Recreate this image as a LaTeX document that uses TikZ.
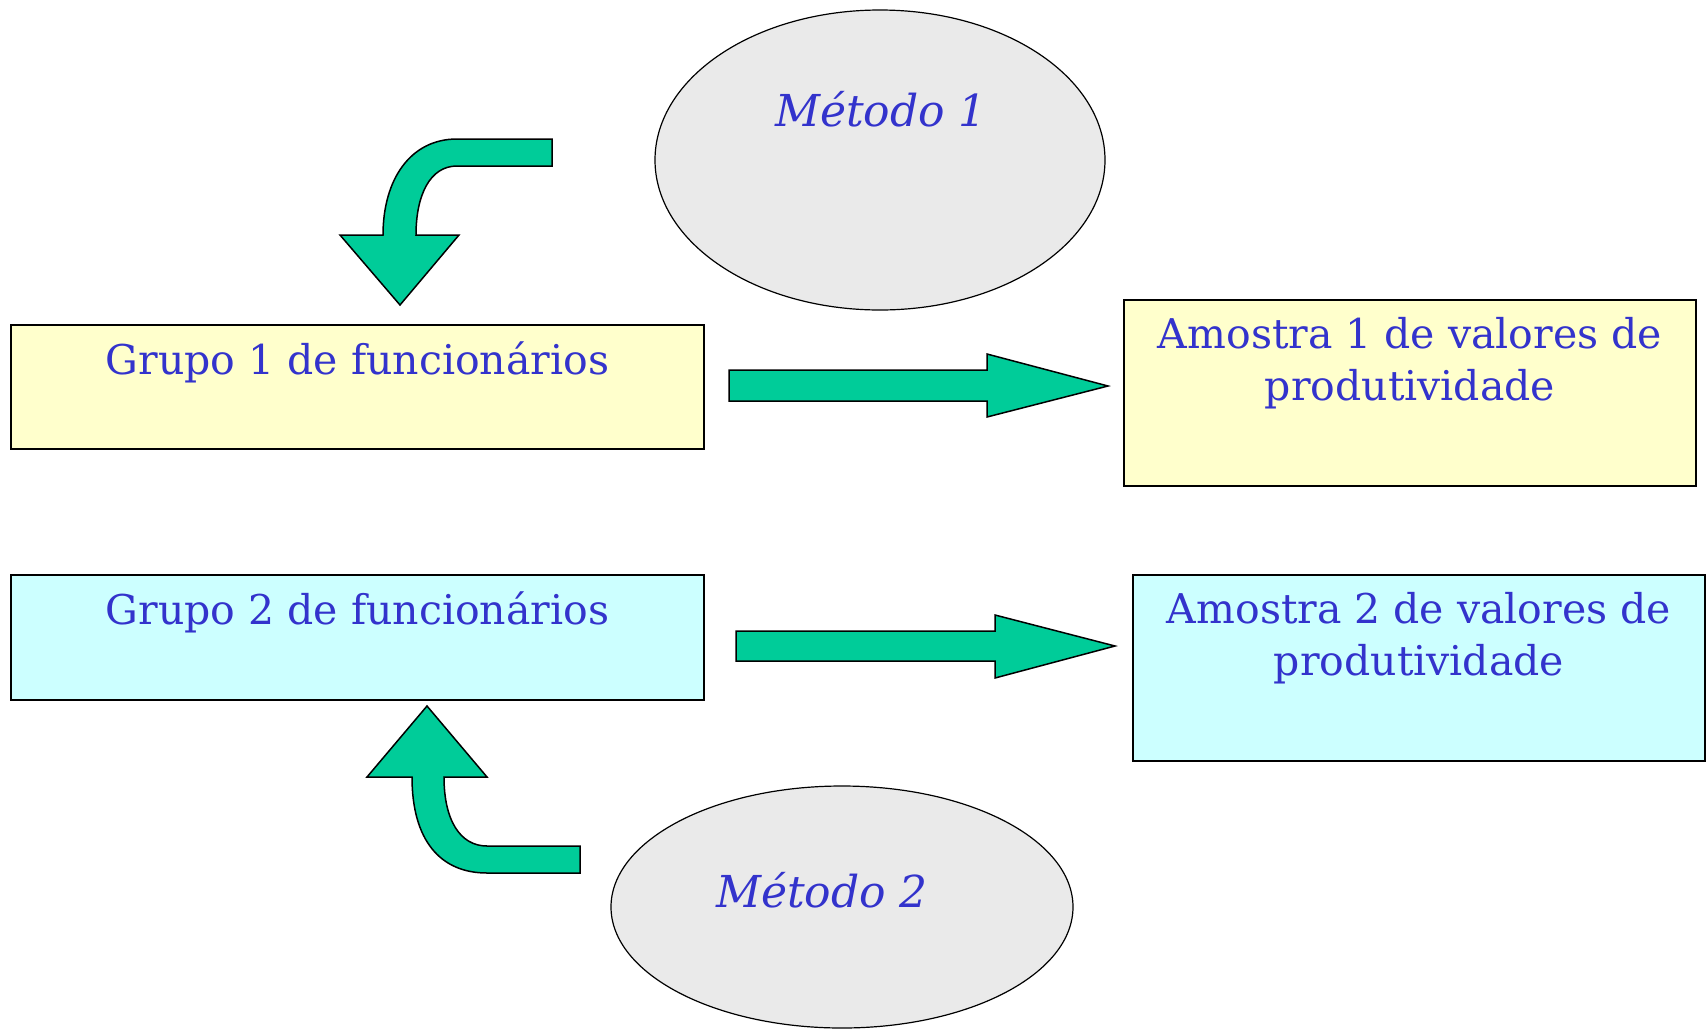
\documentclass[tikz,border=0pt]{standalone}
\usepackage{fontspec}
\setmainfont{DejaVu Serif}
\usepackage{tikz}
\usetikzlibrary{shapes.geometric}
\definecolor{boxyellow}{HTML}{FFFFCC}
\definecolor{boxcyan}{HTML}{CCFFFF}
\definecolor{arrowgreen}{HTML}{00CC99}
\definecolor{ovalgray}{HTML}{EAEAEA}
\definecolor{txtblue}{HTML}{3333CC}
\tikzset{sample box/.style={draw=black,line width=0.75pt,rectangle,inner sep=0},
  box text/.style={text=txtblue,font=\fontsize{20.5}{26}\selectfont,align=center,anchor=north,inner sep=0},
  method oval/.style={draw=black,line width=0.6pt,ellipse,fill=ovalgray,inner sep=0},
  method text/.style={text=txtblue,font=\fontsize{22}{26}\selectfont\itshape,inner sep=0},
  block arrow/.style={fill=arrowgreen,draw=black,line width=0.75pt,line join=miter}}
\def\ds{\displaystyle}

\begin{document}
\begin{tikzpicture}[x=0.5pt,y=-0.5pt]
          \useasboundingbox (0,0) rectangle (1708,1029);

          %Método 1
          \node[method oval, minimum width=225pt, minimum height=150pt] (M1) at (880,160) {};
          \node[method text] (m1) at (881,109) {Método 1};

          %Método 2
          \node[method oval, minimum width=231pt, minimum height=121pt] (M2) at (842,907) {};
          \node[method text] (m2) at (822,890) {Método 2};

          %grupos
          \node[sample box, fill=boxyellow, minimum width=346.5pt, minimum height=62pt] (G1) at (357.5,387) {};
          \node[box text] (g1) at ([yshift=-8.5pt]G1.north) {Grupo 1 de funcionários};
          \node[sample box, fill=boxcyan, minimum width=346.5pt, minimum height=62.5pt] (G2) at (357.5,637.5) {};
          \node[box text] (g2) at ([yshift=-8.5pt]G2.north) {Grupo 2 de funcionários};

          %amostras
          \node[sample box, fill=boxyellow, minimum width=286pt, minimum height=93pt] (A1) at (1410,393) {};
          \node[box text] (a1) at ([yshift=-8.8pt]A1.north) {Amostra 1 de valores de\\ produtividade};
          \node[sample box, fill=boxcyan, minimum width=286pt, minimum height=93pt] (A2) at (1419,668) {};
          \node[box text] (a2) at ([yshift=-8.8pt]A2.north) {Amostra 2 de valores de\\ produtividade};

          %setas retas
          \draw[block arrow] (729,370) -- (987,370) -- (987,354) -- (1108,386) -- (987,417) -- (987,401) -- (729,401) -- cycle;
          \draw[block arrow] (736,631) -- (995,631) -- (995,615) -- (1115,646) -- (995,678) -- (995,661) -- (736,661) -- cycle;

          %seta curva para baixo (Método 1 -> Grupo 1)
          \draw[block arrow] (552,139) -- (457,139) .. controls (410,139) and (383,180) .. (383,235)
                -- (340,235) -- (400,305) -- (459,235) -- (416,235)
                .. controls (416,195) and (430,166) .. (457,166) -- (552,166) -- cycle;

          %seta curva para cima (Método 2 -> Grupo 2)
          \draw[block arrow] (427,706) -- (487,777) -- (444,777) .. controls (444,820) and (460,846) .. (487,846)
                -- (580,846) -- (580,873) -- (487,873) .. controls (440,873) and (412,840) .. (412,777)
                -- (367,777) -- cycle;

        \end{tikzpicture}
\end{document}
